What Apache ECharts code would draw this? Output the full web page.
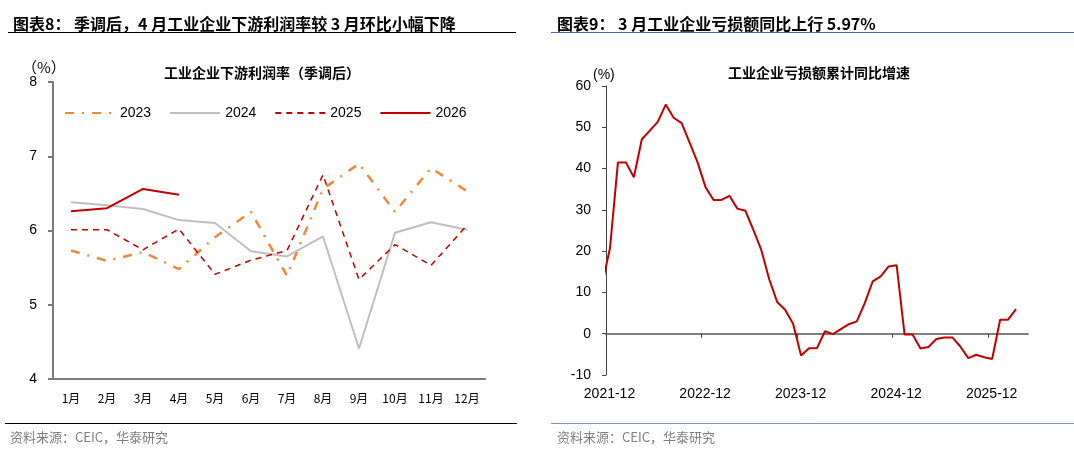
<!DOCTYPE html>
<html>
<head>
<meta charset="utf-8">
<script src="https://cdn.jsdelivr.net/npm/echarts@6/dist/echarts.min.js"></script>
<style>
  body { margin: 0; background: #fff; }
  #main { width: 1074px; height: 456px; }
</style>
</head>
<body>
<div id="main"></div>
<script>
// 左图：下游利润率（季调后）
const monthCats = ["1月", "2月", "3月", "4月", "5月", "6月", "7月", "8月", "9月", "10月", "11月", "12月"];
const margin2023 = [5.73, 5.59, 5.71, 5.48, 5.91, 6.25, 5.39, 6.56, 6.9, 6.25, 6.84, 6.53];
const margin2024 = [6.38, 6.34, 6.29, 6.14, 6.1, 5.72, 5.65, 5.92, 4.41, 5.97, 6.11, 6.01];
const margin2025 = [6.01, 6.01, 5.74, 6.02, 5.41, 5.6, 5.73, 6.75, 5.34, 5.81, 5.53, 6.07];
const margin2026 = [6.26, 6.3, 6.56, 6.48];

// 右图：亏损额累计同比（2021-11 起，首点被坐标轴裁掉）
const lossMonths = [
  "2021-11", "2021-12",
  "2022-01", "2022-02", "2022-03", "2022-04", "2022-05", "2022-06", "2022-07", "2022-08", "2022-09", "2022-10", "2022-11", "2022-12",
  "2023-01", "2023-02", "2023-03", "2023-04", "2023-05", "2023-06", "2023-07", "2023-08", "2023-09", "2023-10", "2023-11", "2023-12",
  "2024-01", "2024-02", "2024-03", "2024-04", "2024-05", "2024-06", "2024-07", "2024-08", "2024-09", "2024-10", "2024-11", "2024-12",
  "2025-01", "2025-02", "2025-03", "2025-04", "2025-05", "2025-06", "2025-07", "2025-08", "2025-09", "2025-10", "2025-11", "2025-12",
  "2026-01", "2026-02", "2026-03"
];
const lossYoY = [
  11.9, 20.7,
  41.5, 41.5, 37.9, 47.1, 49.2, 51.3, 55.5, 52.3, 51.0, 46.3, 41.5, 35.5,
  32.4, 32.4, 33.4, 30.3, 29.8, 25.2, 20.3, 13.2, 7.7, 5.8, 2.4, -5.3,
  -3.5, -3.5, 0.6, -0.1, 1.1, 2.3, 3.0, 7.4, 12.7, 13.9, 16.3, 16.6,
  -0.2, -0.2, -3.6, -3.2, -1.3, -0.9, -0.9, -3.1, -5.9, -5.1, -5.7, -6.1,
  3.4, 3.4, 5.97
];
const lossTickLabels = ["2021-12", "2022-12", "2023-12", "2024-12", "2025-12"];

const font = "Liberation Sans, Noto Sans CJK SC, sans-serif";
const cjk = "Noto Sans CJK SC, Liberation Sans, sans-serif";

// 月份序号 -> 横轴位置（以2021-12起点为0，点在月份中间）
const lossData = lossMonths.map((m, i) => [i - 0.5, lossYoY[i]]);
const lossTicks = lossTickLabels.map((t, i) => i * 12);

const chart = echarts.init(document.getElementById("main"));

const option = {
  backgroundColor: "#fff",
  animation: false,
  title: [
    { text: "图表8： 季调后，4 月工业企业下游利润率较 3 月环比小幅下降", left: 8, top: 11,
      textStyle: { fontFamily: cjk, fontSize: 16, fontWeight: "bold", color: "#000" } },
    { text: "图表9： 3 月工业企业亏损额同比上行 5.97%", left: 552, top: 11,
      textStyle: { fontFamily: cjk, fontSize: 16, fontWeight: "bold", color: "#000" } },
    { text: "工业企业下游利润率（季调后）", left: 257, top: 61, textAlign: "center",
      textStyle: { fontFamily: cjk, fontSize: 14, fontWeight: "bold", color: "#000" } },
    { text: "工业企业亏损额累计同比增速", left: 814, top: 61, textAlign: "center",
      textStyle: { fontFamily: cjk, fontSize: 14, fontWeight: "bold", color: "#000" } },
    { text: "（%）", left: 17, top: 55,
      textStyle: { fontFamily: cjk, fontSize: 15, fontWeight: "normal", color: "#000" } },
    { text: "(%)", left: 588, top: 63,
      textStyle: { fontFamily: font, fontSize: 14, fontWeight: "normal", color: "#000" } },
    { text: "资料来源：CEIC，华泰研究", left: 5, top: 426,
      textStyle: { fontFamily: cjk, fontSize: 13, fontWeight: "normal", color: "#7f7f7f" } },
    { text: "资料来源：CEIC，华泰研究", left: 552, top: 426,
      textStyle: { fontFamily: cjk, fontSize: 13, fontWeight: "normal", color: "#7f7f7f" } }
  ],
  graphic: [
    { type: "line", shape: { x1: 8, y1: 32.5, x2: 516, y2: 32.5 }, style: { stroke: "#000", lineWidth: 1 } },
    { type: "line", shape: { x1: 551, y1: 32.5, x2: 1074, y2: 32.5 }, style: { stroke: "#4a6aa5", lineWidth: 1 } },
    { type: "line", shape: { x1: 5, y1: 423.5, x2: 517, y2: 423.5 }, style: { stroke: "#000", lineWidth: 1 } },
    { type: "line", shape: { x1: 551, y1: 423.5, x2: 1074, y2: 423.5 }, style: { stroke: "#7b93c2", lineWidth: 1 } }
  ],
  legend: {
    data: ["2023", "2024", "2025", "2026"],
    left: 59,
    top: 101,
    itemWidth: 50,
    itemHeight: 14,
    itemGap: 18,
    itemStyle: { opacity: 0 },
    textStyle: { fontFamily: font, fontSize: 14, color: "#000" }
  },
  grid: [
    { left: 53, top: 82, right: 589, bottom: 77 },
    { left: 606, top: 86, right: 46, bottom: 81 }
  ],
  xAxis: [
    {
      type: "category",
      gridIndex: 0,
      data: monthCats,
      axisLine: { lineStyle: { color: "#7a7a7a", width: 2 } },
      axisTick: { length: 5, lineStyle: { color: "#7a7a7a", width: 2 } },
      axisLabel: { color: "#000", fontFamily: cjk, fontSize: 12, margin: 13 }
    },
    {
      type: "value",
      gridIndex: 1,
      min: 0,
      max: 53,
      splitLine: { show: false },
      axisLine: { onZero: true, lineStyle: { color: "#808080", width: 2 } },
      axisTick: { customValues: lossTicks, length: 4, lineStyle: { color: "#404040", width: 1 } },
      axisLabel: {
        customValues: lossTicks,
        formatter: (v) => lossTickLabels[Math.round(v / 12)],
        color: "#000", fontFamily: font, fontSize: 14, margin: 12, padding: [0, 0, 0, 7]
      }
    }
  ],
  yAxis: [
    {
      type: "value",
      gridIndex: 0,
      min: 4,
      max: 8,
      interval: 1,
      splitLine: { show: false },
      axisLine: { show: true, lineStyle: { color: "#7a7a7a", width: 2 } },
      axisTick: { show: true, length: 5, lineStyle: { color: "#7a7a7a", width: 2 } },
      axisLabel: { color: "#000", fontFamily: font, fontSize: 14, margin: 16 }
    },
    {
      type: "value",
      gridIndex: 1,
      min: -10,
      max: 60,
      interval: 10,
      splitLine: { show: false },
      axisLine: { show: true, lineStyle: { color: "#404040", width: 1 } },
      axisTick: { show: true, length: 4, lineStyle: { color: "#404040", width: 1 } },
      axisLabel: { color: "#000", fontFamily: font, fontSize: 14, margin: 15 }
    }
  ],
  series: [
    {
      name: "2023", type: "line", xAxisIndex: 0, yAxisIndex: 0, data: margin2023,
      symbol: "none", lineStyle: { color: "#f0883a", width: 2.5, type: [9, 8, 2, 8] },
      itemStyle: { color: "#f0883a" }
    },
    {
      name: "2024", type: "line", xAxisIndex: 0, yAxisIndex: 0, data: margin2024,
      symbol: "none", lineStyle: { color: "#bfbfbf", width: 2 },
      itemStyle: { color: "#bfbfbf" }
    },
    {
      name: "2025", type: "line", xAxisIndex: 0, yAxisIndex: 0, data: margin2025,
      symbol: "none", lineStyle: { color: "#c00000", width: 1.5, type: [6, 5] },
      itemStyle: { color: "#c00000" }
    },
    {
      name: "2026", type: "line", xAxisIndex: 0, yAxisIndex: 0, data: margin2026,
      symbol: "none", lineStyle: { color: "#c00000", width: 2 },
      itemStyle: { color: "#c00000" }
    },
    {
      name: "亏损额累计同比", type: "line", xAxisIndex: 1, yAxisIndex: 1, data: lossData,
      symbol: "none", lineStyle: { color: "#c00000", width: 2 },
      itemStyle: { color: "#c00000" }
    }
  ]
};

chart.setOption(option);
</script>
</body>
</html>
